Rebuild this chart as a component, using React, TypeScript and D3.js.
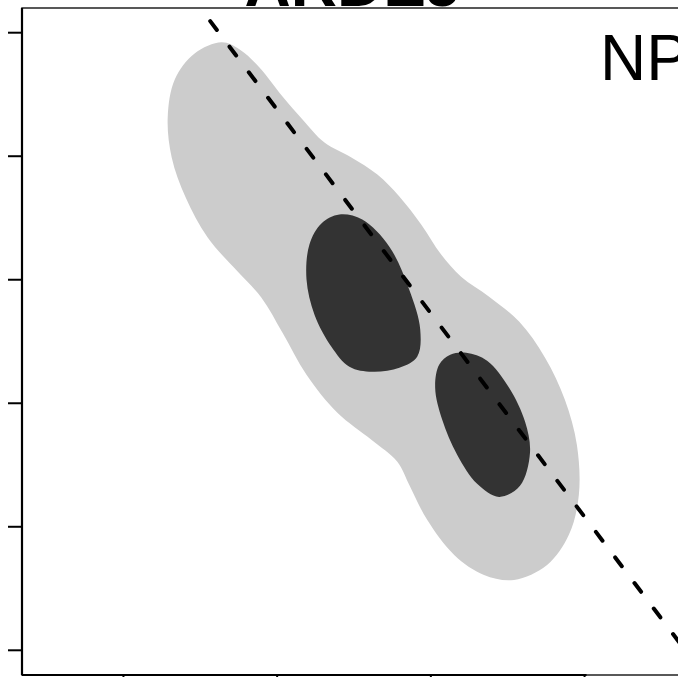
import React from 'react';
import * as d3 from 'd3';

const W = 678;
const H = 677;

// axis tick values (no labels visible in the reference)
const X_TICKS = [1, 2, 3, 4];
const Y_TICKS = [0, 1, 2, 3, 4, 5];
const X_DOMAIN: [number, number] = [0.34, 4.66];
const Y_DOMAIN: [number, number] = [-0.2, 5.2];

// outer (light) density contour, data units
const OUTER_X = [1.639, 1.756, 1.885, 2.035, 2.165, 2.308, 2.483, 2.652, 2.795, 2.937, 3.067, 3.197, 3.379, 3.574, 3.743, 3.872, 3.95, 3.963, 3.898, 3.756, 3.541, 3.346, 3.152, 2.976, 2.859, 2.782, 2.613, 2.392, 2.191, 2.035, 1.898, 1.743, 1.548, 1.405, 1.314, 1.288, 1.334, 1.463];
const OUTER_Y = [4.922, 4.865, 4.719, 4.484, 4.298, 4.111, 3.99, 3.852, 3.674, 3.447, 3.204, 3.025, 2.863, 2.661, 2.369, 2.029, 1.664, 1.259, 0.935, 0.691, 0.57, 0.61, 0.772, 1.056, 1.34, 1.526, 1.704, 1.923, 2.231, 2.571, 2.855, 3.066, 3.341, 3.665, 3.99, 4.314, 4.622, 4.832];

// inner (dark) contour, first mode
const INNER1_X = [2.405, 2.554, 2.73, 2.859, 2.931, 2.911, 2.795, 2.619, 2.47, 2.353, 2.243, 2.191, 2.21, 2.288];
const INNER1_Y = [3.528, 3.487, 3.268, 2.92, 2.596, 2.377, 2.288, 2.255, 2.296, 2.458, 2.717, 3.001, 3.285, 3.455];

// inner (dark) contour, second mode
const INNER2_X = [3.23, 3.366, 3.509, 3.613, 3.645, 3.58, 3.444, 3.301, 3.171, 3.074, 3.028, 3.054, 3.126];
const INNER2_Y = [2.409, 2.345, 2.126, 1.85, 1.599, 1.332, 1.242, 1.348, 1.583, 1.866, 2.126, 2.312, 2.393];

// reference line y = a + b x
const LINE_A = 7.672;
const LINE_B = -1.648;

const TITLE = 'ARDEJ';
const LABEL = 'NP';

const zip = (xs: number[], ys: number[]) => xs.map((v, i) => [v, ys[i]] as [number, number]);

export default function App() {
  const plot = { left: 22, right: 686, top: 8, bottom: 675 };
  const x = d3.scaleLinear().domain(X_DOMAIN).range([plot.left, plot.right]);
  const y = d3.scaleLinear().domain(Y_DOMAIN).range([plot.bottom, plot.top]);

  const closed = d3
    .line<[number, number]>()
    .x((d) => x(d[0]))
    .y((d) => y(d[1]))
    .curve(d3.curveCatmullRomClosed.alpha(0.5));

  const outer = closed(zip(OUTER_X, OUTER_Y)) || '';
  const inner1 = closed(zip(INNER1_X, INNER1_Y)) || '';
  const inner2 = closed(zip(INNER2_X, INNER2_Y)) || '';

  const xStart = (Y_DOMAIN[1] - LINE_A) / LINE_B;
  const xEnd = X_DOMAIN[1];
  const refLine =
    d3.line<[number, number]>().x((d) => x(d[0])).y((d) => y(d[1]))([
      [xStart, LINE_A + LINE_B * xStart],
      [xEnd, LINE_A + LINE_B * xEnd],
    ]) || '';

  const font = "'Liberation Sans', Arial, Helvetica, sans-serif";

  return (
    <svg
      width={W}
      height={H}
      style={{ position: 'absolute', left: 0, top: 0, display: 'block', background: '#fff' }}
    >
      <defs>
        <clipPath id="plotClip">
          <rect x={plot.left} y={plot.top} width={plot.right - plot.left} height={plot.bottom - plot.top} />
        </clipPath>
      </defs>
      <g clipPath="url(#plotClip)">
        <path d={outer} fill="#cccccc" stroke="none" />
        <path d={inner1} fill="#333333" stroke="none" />
        <path d={inner2} fill="#333333" stroke="none" />
        <path
          d={refLine}
          fill="none"
          stroke="#000"
          strokeWidth={4}
          strokeLinecap="round"
          strokeDasharray="11 21"
          strokeDashoffset={15.5}
        />
        <text x={600} y={80} fontFamily={font} fontSize={64} fill="#000">
          {LABEL}
        </text>
      </g>
      {/* box */}
      <rect
        x={plot.left}
        y={plot.top}
        width={plot.right - plot.left}
        height={plot.bottom - plot.top}
        fill="none"
        stroke="#222"
        strokeWidth={1.5}
      />
      {/* y axis */}
      <line x1={plot.left} x2={plot.left} y1={plot.top} y2={plot.bottom} stroke="#000" strokeWidth={2.2} />
      {Y_TICKS.map((t) => (
        <line key={'y' + t} x1={8} x2={plot.left} y1={y(t)} y2={y(t)} stroke="#000" strokeWidth={2} />
      ))}
      {/* x axis */}
      <line x1={plot.left} x2={x(X_TICKS[X_TICKS.length - 1]) + 2} y1={plot.bottom} y2={plot.bottom} stroke="#000" strokeWidth={2.2} />
      {X_TICKS.map((t) => (
        <line key={'x' + t} x1={x(t)} x2={x(t)} y1={plot.bottom} y2={plot.bottom + 14} stroke="#000" strokeWidth={2} />
      ))}
      <text x={353} y={6} textAnchor="middle" fontFamily={font} fontWeight="bold" fontSize={64} fill="#000">
        {TITLE}
      </text>
    </svg>
  );
}
